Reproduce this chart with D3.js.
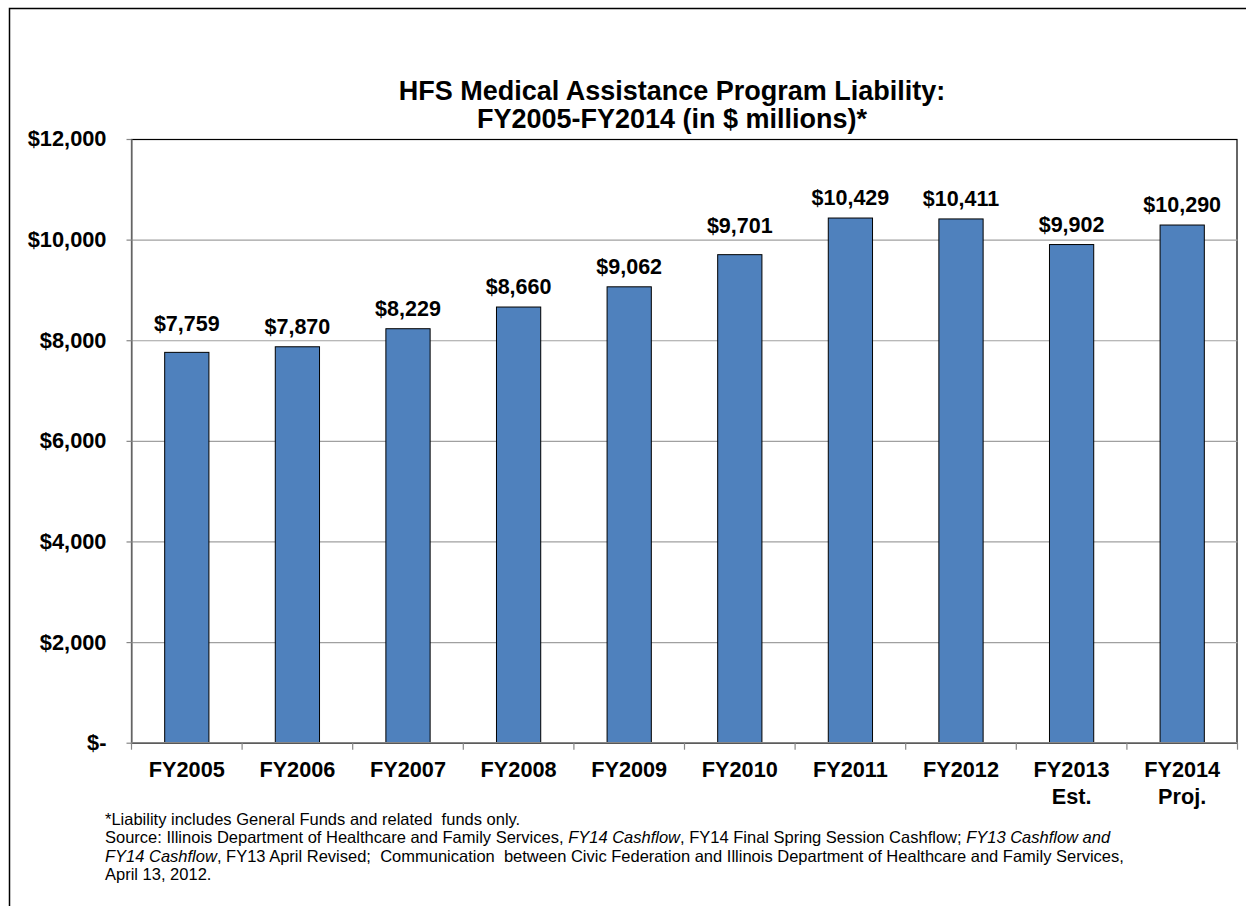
<!DOCTYPE html>
<html>
<head>
<meta charset="utf-8">
<script src="https://cdn.jsdelivr.net/npm/d3@7"></script>
<style>
  body { margin: 0; background: #fff; }
  svg { display: block; font-family: "Liberation Sans", Arial, sans-serif; }
</style>
</head>
<body>
<div id="chart"></div>
<script>
const categories = ["FY2005", "FY2006", "FY2007", "FY2008", "FY2009", "FY2010", "FY2011", "FY2012", "FY2013 Est.", "FY2014 Proj."];
const liability = [7759, 7870, 8229, 8660, 9062, 9701, 10429, 10411, 9902, 10290];
const yTicks = [0, 2000, 4000, 6000, 8000, 10000, 12000];
const titleLines = ["HFS Medical Assistance Program Liability:", "FY2005-FY2014 (in $ millions)*"];
const notes = [
  [{t: "*Liability includes General Funds and related  funds only."}],
  [{t: "Source: Illinois Department of Healthcare and Family Services, "}, {t: "FY14 Cashflow", i: true}, {t: ", FY14 Final Spring Session Cashflow; "}, {t: "FY13 Cashflow and", i: true}],
  [{t: "FY14 Cashflow", i: true}, {t: ", FY13 April Revised;  Communication  between Civic Federation and Illinois Department of Healthcare and Family Services,"}],
  [{t: "April 13, 2012."}]
];

const W = 1246, H = 906;
const plot = {left: 131.5, right: 1237.5, top: 139, bottom: 742.7};

const svg = d3.select("#chart")
  .append("svg")
  .attr("width", W)
  .attr("height", H);

// outer chart frame (runs off the right and bottom edge)
svg.append("rect")
  .attr("x", 9.5).attr("y", 8.5)
  .attr("width", 1400).attr("height", 1200)
  .attr("fill", "none")
  .attr("stroke", "#000")
  .attr("stroke-width", 1.5);

const x = d3.scaleBand()
  .domain(categories)
  .range([plot.left, plot.right])
  .paddingInner(0.6)
  .paddingOuter(0.3);

const y = d3.scaleLinear()
  .domain([0, 12000])
  .range([plot.bottom, plot.top]);

// title
svg.append("g")
  .selectAll("text")
  .data(titleLines)
  .enter()
  .append("text")
  .attr("x", 672)
  .attr("y", (d, i) => 100 + i * 28)
  .attr("text-anchor", "middle")
  .attr("font-size", 27)
  .attr("font-weight", "bold")
  .text(d => d);

// plot area border
svg.append("rect")
  .attr("x", plot.left).attr("y", plot.top + 0.5)
  .attr("width", plot.right - plot.left - 0.5)
  .attr("height", plot.bottom - plot.top)
  .attr("fill", "none")
  .attr("stroke", "#000")
  .attr("stroke-width", 1.2);

// gridlines
svg.append("g")
  .attr("class", "grid")
  .attr("transform", `translate(${plot.left},0)`)
  .call(d3.axisLeft(y).tickValues(yTicks.slice(1, -1)).tickSize(-(plot.right - plot.left)).tickFormat(""))
  .call(g => g.select(".domain").remove())
  .call(g => g.selectAll("line").attr("stroke", "#a0a0a0").attr("stroke-width", 1.2));

// bars
svg.append("g")
  .selectAll("rect")
  .data(liability)
  .enter()
  .append("rect")
  .attr("x", (d, i) => x(categories[i]))
  .attr("y", d => y(d))
  .attr("width", x.bandwidth())
  .attr("height", d => y(0) - y(d))
  .attr("fill", "#4f81bd")
  .attr("stroke", "#000")
  .attr("stroke-width", 1);

// value labels, lifted when they would sit on a gridline
const fmt = d3.format(",");
function labelY(v) {
  let base = y(v) - 12.7;
  const hit = yTicks.some(t => y(t) > base - 17 && y(t) < base + 3);
  return hit ? base - 9 : base;
}
svg.append("g")
  .selectAll("text")
  .data(liability)
  .enter()
  .append("text")
  .attr("x", (d, i) => x(categories[i]) + x.bandwidth() / 2)
  .attr("y", d => labelY(d))
  .attr("text-anchor", "middle")
  .attr("font-size", 21.5)
  .attr("font-weight", "bold")
  .text(d => "$" + fmt(d));

// y axis
const yAxis = svg.append("g")
  .attr("transform", `translate(${plot.left},0)`)
  .call(d3.axisLeft(y).tickValues(yTicks).tickSize(5).tickSizeOuter(0).tickPadding(20)
    .tickFormat(d => d === 0 ? "$-" : "$" + fmt(d)));
yAxis.select(".domain").attr("stroke", "#868686").attr("stroke-width", 1.5);
yAxis.selectAll(".tick line").attr("stroke", "#868686").attr("stroke-width", 1.2);
yAxis.selectAll(".tick text")
  .attr("fill", "#000")
  .attr("font-size", 21.8)
  .attr("font-weight", "bold")
  .attr("font-family", "Liberation Sans, Arial, sans-serif");

// x axis: line, boundary ticks, two-line labels
const xAxis = svg.append("g")
  .attr("transform", `translate(0,${plot.bottom})`);
xAxis.append("line")
  .attr("x1", plot.left).attr("x2", plot.right)
  .attr("stroke", "#868686").attr("stroke-width", 1.5);
xAxis.selectAll(".xtick")
  .data(d3.range(categories.length + 1))
  .enter()
  .append("line")
  .attr("class", "xtick")
  .attr("x1", i => plot.left + i * x.step())
  .attr("x2", i => plot.left + i * x.step())
  .attr("y1", 0).attr("y2", 7)
  .attr("stroke", "#868686").attr("stroke-width", 1.2);
const xl = xAxis.selectAll(".xlabel")
  .data(categories)
  .enter()
  .append("text")
  .attr("class", "xlabel")
  .attr("x", d => x(d) + x.bandwidth() / 2)
  .attr("y", 34.5)
  .attr("text-anchor", "middle")
  .attr("font-size", 21.7)
  .attr("font-weight", "bold");
xl.selectAll("tspan")
  .data(d => d.split(" "))
  .enter()
  .append("tspan")
  .attr("x", function() { return d3.select(this.parentNode).attr("x"); })
  .attr("dy", (d, i) => i === 0 ? 0 : 26.5)
  .text(d => d);

// footnotes
const nt = svg.append("g")
  .selectAll("text")
  .data(notes)
  .enter()
  .append("text")
  .attr("x", 105)
  .attr("y", (d, i) => 825 + i * 18.4)
  .attr("font-size", 16.5);
nt.selectAll("tspan")
  .data(d => d)
  .enter()
  .append("tspan")
  .attr("font-style", d => d.i ? "italic" : "normal")
  .attr("xml:space", "preserve")
  .style("white-space", "pre")
  .text(d => d.t);
</script>
</body>
</html>
